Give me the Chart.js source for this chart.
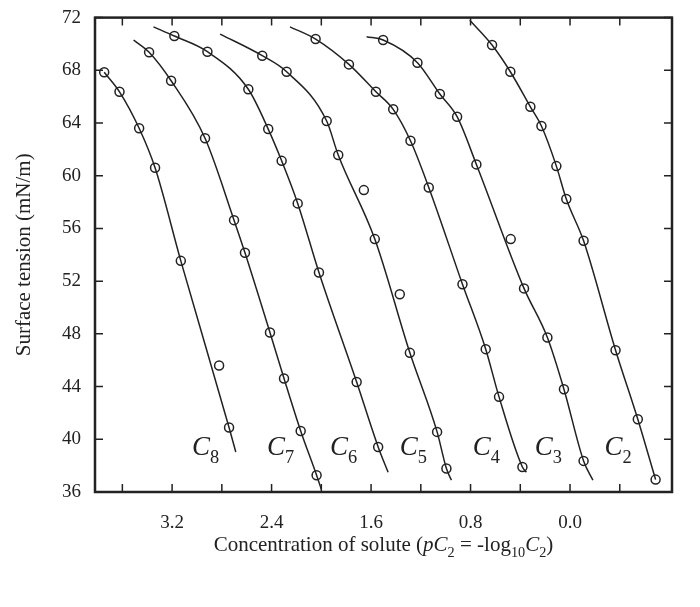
<!DOCTYPE html>
<html>
<head>
<meta charset="utf-8">
<script src="https://cdn.jsdelivr.net/npm/chart.js@4.4.0/dist/chart.umd.min.js"></script>
<style>
  body { margin: 0; background: #fff; }
  #wrap { width: 700px; height: 607px; }
</style>
</head>
<body>
<div id="wrap"><canvas id="chart"></canvas></div>
<script>
// measured points (pC2, surface tension)
const seriesNames = ['C8', 'C7', 'C6', 'C5', 'C4', 'C3', 'C2'];
const pointsX = [
  [3.746, 3.623, 3.465, 3.337, 3.130, 2.822, 2.742],
  [3.385, 3.208, 2.935, 2.702, 2.614, 2.413, 2.300, 2.166, 2.038],
  [3.182, 2.916, 2.587, 2.427, 2.319, 2.190, 2.019, 1.716, 1.543],
  [2.475, 2.279, 1.957, 1.864, 1.658, 1.570, 1.369, 1.288, 1.069, 0.994],
  [2.046, 1.778, 1.561, 1.422, 1.283, 1.136, 0.865, 0.678, 0.571, 0.383],
  [1.503, 1.227, 1.047, 0.908, 0.753, 0.477, 0.370, 0.182, 0.049, -0.109],
  [0.627, 0.480, 0.319, 0.230, 0.110, 0.030, -0.109, -0.366, -0.545, -0.688]
];
const pointsY = [
  [67.85, 66.37, 63.60, 60.60, 53.54, 45.60, 40.90],
  [69.37, 67.21, 62.84, 56.63, 54.15, 48.10, 44.61, 40.63, 37.27],
  [70.60, 69.41, 66.56, 63.54, 61.13, 57.90, 52.66, 44.35, 39.42],
  [69.11, 67.89, 64.15, 61.57, 58.91, 55.19, 51.00, 46.56, 40.56, 37.78],
  [70.37, 68.45, 66.37, 65.04, 62.65, 59.11, 51.77, 46.84, 43.22, 37.90],
  [70.30, 68.58, 66.20, 64.48, 60.86, 55.19, 51.45, 47.72, 43.80, 38.36],
  [69.92, 67.89, 65.23, 63.77, 60.73, 58.23, 55.06, 46.76, 41.52, 36.94]
];

// fitted curves
const curveX = [
  [3.746, 3.623, 3.465, 3.337, 3.130, 2.742, 2.688],
  [3.510, 3.385, 3.208, 2.935, 2.702, 2.614, 2.413, 2.300, 2.166, 2.038, 2.000],
  [3.350, 3.182, 2.916, 2.587, 2.427, 2.319, 2.190, 2.019, 1.716, 1.543, 1.463],
  [2.814, 2.475, 2.279, 1.957, 1.864, 1.570, 1.288, 1.069, 0.994, 0.954],
  [2.252, 2.046, 1.778, 1.561, 1.422, 1.283, 1.136, 0.865, 0.678, 0.571, 0.383, 0.351],
  [1.636, 1.503, 1.227, 1.047, 0.908, 0.753, 0.370, 0.182, 0.049, -0.109, -0.184],
  [0.806, 0.627, 0.480, 0.319, 0.230, 0.110, 0.030, -0.109, -0.366, -0.545, -0.688]
];
const curveY = [
  [67.85, 66.37, 63.60, 60.60, 53.54, 40.90, 39.04],
  [70.30, 69.37, 67.21, 62.84, 56.63, 54.15, 48.10, 44.61, 40.63, 37.27, 36.20],
  [71.30, 70.60, 69.41, 66.56, 63.54, 61.13, 57.90, 52.66, 44.35, 39.42, 37.50],
  [70.75, 69.11, 67.89, 64.15, 61.57, 55.19, 46.56, 40.56, 37.78, 36.90],
  [71.30, 70.37, 68.45, 66.37, 65.04, 62.65, 59.11, 51.77, 46.84, 43.22, 37.90, 37.50],
  [70.55, 70.30, 68.58, 66.20, 64.48, 60.86, 51.45, 47.72, 43.80, 38.36, 36.90],
  [71.80, 69.92, 67.89, 65.23, 63.77, 60.73, 58.23, 55.06, 46.76, 41.52, 36.94]
];
// curve label anchors (left edge of "C", baseline)
const labelX = [3.04, 2.437, 1.93, 1.369, 0.782, 0.284, -0.278];
const labelY = 38.8;

const xTicks = [3.6, 3.2, 2.8, 2.4, 2.0, 1.6, 1.2, 0.8, 0.4, 0.0, -0.4];
const xLabels = ['3.2', '2.4', '1.6', '0.8', '0.0'];
const yTicks = [36, 40, 44, 48, 52, 56, 60, 64, 68, 72];

const serif = '"Liberation Serif", "DejaVu Serif", serif';
const ink = '#222';

const datasets = [];
seriesNames.forEach((name, i) => {
  datasets.push({
    label: name + ' fit',
    data: curveX[i].map((x, j) => ({ x, y: curveY[i][j] })),
    borderColor: ink, borderWidth: 1.5, pointRadius: 0,
    showLine: true, cubicInterpolationMode: 'monotone'
  });
  datasets.push({
    label: name,
    data: pointsX[i].map((x, j) => ({ x, y: pointsY[i][j] })),
    borderColor: ink, backgroundColor: '#fff', borderWidth: 1.5,
    pointRadius: 4.5, showLine: false
  });
});

function richText(ctx, parts, x, y, size, align) {
  let total = 0;
  const widths = parts.map(p => {
    const s = p.sub ? size * 0.68 : size;
    ctx.font = (p.it ? 'italic ' : '') + s + 'px ' + serif;
    const w = ctx.measureText(p.t).width;
    total += w;
    return w;
  });
  let cx = align === 'center' ? x - total / 2 : x;
  parts.forEach((p, k) => {
    const s = p.sub ? size * 0.68 : size;
    ctx.font = (p.it ? 'italic ' : '') + s + 'px ' + serif;
    ctx.fillText(p.t, cx, y + (p.sub ? size * 0.28 : 0));
    cx += widths[k];
  });
}

const decor = {
  id: 'decor',
  afterDraw(chart) {
    const { ctx, chartArea: a, scales: { x, y } } = chart;
    ctx.save();
    ctx.strokeStyle = ink;
    ctx.lineWidth = 1.5;
    const tl = 8;
    ctx.beginPath();
    xTicks.forEach(v => {
      const px = x.getPixelForValue(v);
      ctx.moveTo(px, a.bottom); ctx.lineTo(px, a.bottom - tl);
      ctx.moveTo(px, a.top); ctx.lineTo(px, a.top + tl);
    });
    yTicks.forEach(v => {
      const py = y.getPixelForValue(v);
      ctx.moveTo(a.left, py); ctx.lineTo(a.left + tl, py);
      ctx.moveTo(a.right, py); ctx.lineTo(a.right - tl, py);
    });
    ctx.stroke();
    ctx.lineWidth = 2.5;
    ctx.strokeRect(a.left, a.top, a.right - a.left, a.bottom - a.top);

    ctx.fillStyle = ink;
    ctx.textBaseline = 'alphabetic';
    ctx.textAlign = 'left';
    seriesNames.forEach((name, i) => {
      richText(ctx, [{ t: 'C', it: true }, { t: name.slice(1), sub: true }],
        x.getPixelForValue(labelX[i]), y.getPixelForValue(labelY), 27, 'left');
    });
    richText(ctx, [
      { t: 'Concentration of solute (' }, { t: 'pC', it: true }, { t: '2', sub: true },
      { t: ' = -log' }, { t: '10', sub: true }, { t: 'C', it: true }, { t: '2', sub: true }, { t: ')' }
    ], (a.left + a.right) / 2, 551, 21, 'center');

    ctx.translate(24, (a.top + a.bottom) / 2);
    ctx.rotate(-Math.PI / 2);
    ctx.font = '21px ' + serif;
    ctx.textAlign = 'center';
    ctx.fillText('Surface tension (mN/m)', 0, 6);
    ctx.restore();
  }
};

new Chart(document.getElementById('chart'), {
  type: 'scatter',
  data: { datasets },
  options: {
    responsive: true, maintainAspectRatio: false, animation: false,
    layout: { padding: { top: 17.6, right: 28, left: 0, bottom: 0 } },
    plugins: { legend: { display: false }, tooltip: { enabled: false } },
    scales: {
      x: {
        type: 'linear', reverse: true, min: -0.82, max: 3.82,
        afterBuildTicks: s => { s.ticks = xTicks.map(v => ({ value: v })); },
        afterFit: s => { s.height = 115; },
        grid: { display: false }, border: { display: false },
        ticks: {
          color: ink, font: { family: serif, size: 19 }, padding: 12, maxRotation: 0, autoSkip: false,
          callback: v => { const t = v.toFixed(1); return xLabels.includes(t) ? t : ''; }
        }
      },
      y: {
        min: 36, max: 72,
        afterBuildTicks: s => { s.ticks = yTicks.map(v => ({ value: v })); },
        afterFit: s => { s.width = 95; },
        grid: { display: false }, border: { display: false },
        ticks: { color: ink, font: { family: serif, size: 19 }, padding: 6 }
      }
    }
  },
  plugins: [decor]
});
</script>
</body>
</html>
